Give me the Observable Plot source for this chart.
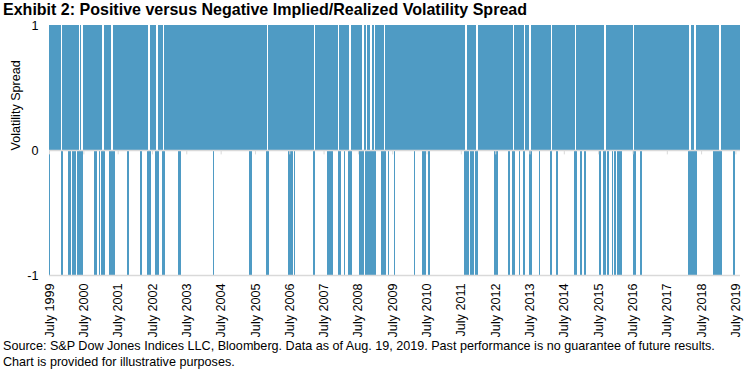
<!DOCTYPE html>
<html><head><meta charset="utf-8">
<script src="https://cdn.jsdelivr.net/npm/d3@7"></script>
<script src="https://cdn.jsdelivr.net/npm/@observablehq/plot@0.6"></script>
<style>
body{margin:0;background:#fff;width:748px;height:372px;overflow:hidden;position:relative;}
#title{position:absolute;left:3px;top:0;height:20px;line-height:20px;font-weight:bold;font-size:17px;font-family:"Liberation Sans Narrow","Arial Narrow","Liberation Sans",Arial,sans-serif;white-space:nowrap;transform-origin:0 0;color:#000;z-index:2;}
#chart{position:absolute;left:0;top:12px;z-index:1;}
#caption{position:absolute;left:3px;top:338px;font-size:12.6px;line-height:16px;font-family:"Liberation Sans",Arial,sans-serif;color:#000;white-space:nowrap;}
</style></head><body>
<div id="title">Exhibit 2: Positive versus Negative Implied/Realized Volatility Spread</div>
<div id="chart"></div>
<div id="caption">Source: S&amp;P Dow Jones Indices LLC, Bloomberg. Data as of Aug. 19, 2019. Past performance is no guarantee of future results.<br>Chart is provided for illustrative purposes.</div>
<script>
const periodStart = "1999-07-01";
const periodEnd = "2019-08-19";

// Spells where implied minus realized volatility was negative (-1)
const negativeSpells = [
["1999-07-01","1999-07-08"],["1999-11-01","1999-11-22"],["2000-01-14","2000-02-15"],["2000-02-26","2000-04-09"],
["2000-04-20","2000-07-01"],["2000-10-18","2000-11-23"],["2000-12-11","2000-12-21"],["2001-01-01","2001-02-13"],
["2001-03-27","2001-05-30"],["2001-10-05","2001-10-26"],["2002-02-20","2002-03-13"],["2002-05-05","2002-06-17"],
["2002-07-30","2002-09-10"],["2002-10-12","2002-11-13"],["2003-04-01","2003-05-03"],["2004-04-08","2004-04-19"],
["2005-04-27","2005-05-29"],["2005-10-25","2005-11-26"],["2006-06-16","2006-08-12"],["2006-08-16","2006-08-27"],
["2007-03-10","2007-03-31"],["2007-08-06","2007-10-09"],["2007-12-01","2008-01-02"],["2008-02-03","2008-02-14"],
["2008-03-17","2008-04-29"],["2008-07-12","2008-09-03"],["2008-09-14","2009-01-09"],["2009-03-04","2009-04-26"],
["2009-05-17","2009-05-28"],["2009-07-20","2009-07-31"],["2010-02-19","2010-03-02"],["2010-05-15","2010-06-26"],
["2010-07-18","2010-08-08"],["2011-08-06","2011-09-28"],["2011-10-09","2011-11-20"],["2011-12-01","2012-01-02"],
["2012-06-20","2012-08-02"],["2012-11-17","2012-12-08"],["2012-12-29","2013-01-30"],["2013-03-14","2013-03-24"],
["2013-04-26","2013-05-17"],["2013-06-28","2013-07-30"],["2013-10-12","2013-10-24"],["2014-02-08","2014-03-01"],
["2014-04-12","2014-05-04"],["2014-10-21","2014-11-22"],["2014-12-24","2015-01-14"],["2015-02-05","2015-02-26"],
["2015-07-15","2015-08-05"],["2015-08-26","2015-09-27"],["2015-10-08","2015-10-29"],["2015-11-30","2015-12-11"],
["2015-12-22","2016-01-12"],["2016-01-23","2016-03-16"],["2016-07-01","2016-08-02"],["2016-09-23","2016-10-15"],
["2018-02-07","2018-05-14"],["2018-10-31","2019-02-04"],["2019-06-02","2019-06-23"],["2019-08-15","2019-08-19"]
];

// Stretches where the spread stayed negative without interruption (breaks in the +1 fill)
const persistentNegative = [
["1999-11-01","1999-11-12"],["2000-03-29","2000-04-08"],["2000-05-10","2000-05-21"],["2000-06-01","2000-06-22"],
["2001-01-11","2001-02-01"],["2001-04-18","2001-05-09"],["2002-05-16","2002-06-06"],["2002-08-09","2002-08-31"],
["2002-10-23","2002-11-03"],["2005-11-05","2005-11-15"],["2007-03-20","2007-03-31"],["2007-12-01","2007-12-12"],
["2008-03-28","2008-04-18"],["2008-08-13","2008-09-03"],["2008-09-25","2008-10-05"],["2008-11-06","2008-11-28"],
["2008-12-19","2008-12-30"],["2009-04-05","2009-04-15"],["2011-08-16","2011-09-07"],["2011-12-12","2012-01-02"],
["2013-01-09","2013-01-19"],["2013-05-06","2013-05-17"],["2013-06-28","2013-07-20"],["2014-02-19","2014-03-01"],
["2014-11-01","2014-11-11"],["2015-09-06","2015-09-27"],["2016-07-11","2016-07-22"],["2018-02-17","2018-03-11"],
["2018-04-12","2018-05-03"],["2019-01-03","2019-01-24"]
];

const tickDates = ["1999-07-01","2000-07-01","2001-07-01","2002-07-01","2003-07-01","2004-07-01","2005-07-01",
"2006-07-01","2007-07-01","2008-07-01","2009-07-01","2010-07-01","2011-07-01","2012-07-01","2013-07-01",
"2014-07-01","2015-07-01","2016-07-01","2017-07-01","2018-07-01","2019-07-01"];
const tickLabels = ["July 1999","July 2000","July 2001","July 2002","July 2003","July 2004","July 2005",
"July 2006","July 2007","July 2008","July 2009","July 2010","July 2011","July 2012","July 2013",
"July 2014","July 2015","July 2016","July 2017","July 2018","July 2019"];
const yTicks = [-1, 0, 1];
const yLabels = ["-1", "0", "1"];

const parse = d3.utcParse("%Y-%m-%d");
const blue = "#4f9bc4";
const grid = "#d9d9d9";

// positive (+1) spells: everything outside the persistent negative stretches
const positiveSpells = [];
let cur = parse(periodStart);
for (const [a, b] of persistentNegative) {
  positiveSpells.push({x1: cur, x2: parse(a)});
  cur = parse(b);
}
positiveSpells.push({x1: cur, x2: parse(periodEnd)});
const negRows = negativeSpells.map(([a, b]) => ({x1: parse(a), x2: parse(b)}));
const ticks = tickDates.map(parse);
const labelOf = new Map(ticks.map((t, i) => [+t, tickLabels[i]]));

const chart = Plot.plot({
  width: 748, height: 325,
  marginLeft: 49, marginRight: 8, marginTop: 13, marginBottom: 62,
  style: {fontFamily: "'Liberation Sans', Arial, sans-serif", fontSize: "12.6px", color: "#000", background: "transparent"},
  x: {type: "utc", domain: [parse(periodStart), parse(periodEnd)]},
  y: {domain: [-1, 1]},
  marks: [
    Plot.rect(positiveSpells, {x1: "x1", x2: "x2", y1: 0, y2: 1, fill: blue, shapeRendering: "crispEdges"}),
    Plot.rect(negRows, {x1: "x1", x2: "x2", y1: -1, y2: 0, fill: blue, shapeRendering: "crispEdges"}),
    Plot.ruleY([0], {stroke: grid, strokeWidth: 1.5}),
    Plot.ruleY([-1], {stroke: grid, strokeWidth: 1.5}),
    Plot.ruleX(ticks, {x: d => d, y1: 0, y2: -0.035, stroke: grid, strokeWidth: 1}),
    Plot.axisX(ticks, {anchor: "bottom", tickSize: 0, tickPadding: 8, tickRotate: -90, textAnchor: "end",
      tickFormat: d => labelOf.get(+d), fontSize: 12.6, fill: "#000"}),
    Plot.axisY(yTicks, {anchor: "left", tickSize: 0, tickPadding: 11, tickFormat: d => yLabels[yTicks.indexOf(d)],
      fontSize: 12.6, fill: "#000", label: null}),
    Plot.text(["Volatility Spread"], {frameAnchor: "left", dx: -34, rotate: -90, fontSize: 12.6, fill: "#000"})
  ]
});
document.getElementById("chart").appendChild(chart);

const title = document.getElementById("title");
const w = title.getBoundingClientRect().width;
title.style.transform = `scaleX(${524 / w})`;
</script>
</body></html>
